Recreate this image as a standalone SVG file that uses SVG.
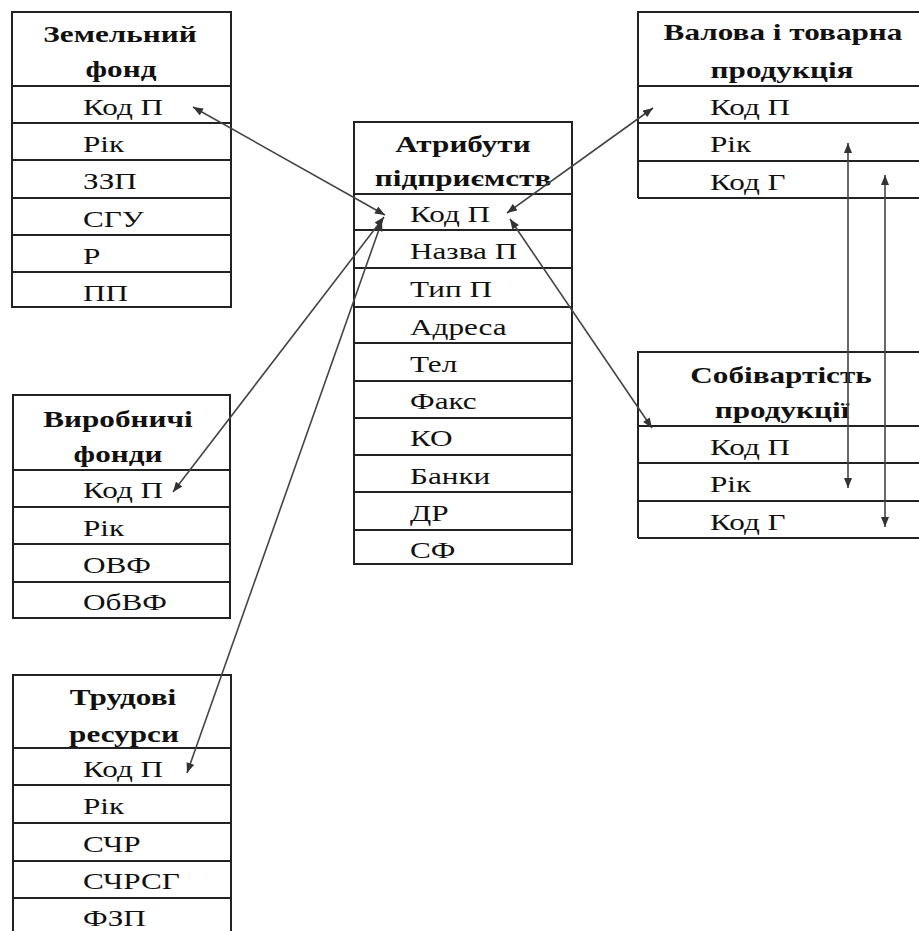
<svg xmlns="http://www.w3.org/2000/svg" width="919" height="931" viewBox="0 0 919 931">
<style>
.b{fill:#fff;stroke:#222;stroke-width:2}
.l{stroke:#222;stroke-width:2;fill:none}
.t{font-family:"Liberation Serif","Times New Roman",serif;font-size:24px;fill:#111}
.h{font-family:"Liberation Serif","Times New Roman",serif;font-size:24px;font-weight:bold;fill:#111;text-anchor:middle}
.c{stroke:#444;stroke-width:1.6;fill:none;marker-start:url(#a);marker-end:url(#a)}
</style>
<defs>
<marker id="a" viewBox="0 0 10 8" refX="10" refY="4" markerWidth="11" markerHeight="8" markerUnits="userSpaceOnUse" orient="auto-start-reverse">
<path d="M0,0 L10,4 L0,8 Z" fill="#333"/>
</marker>
</defs>
<rect width="919" height="931" fill="#fff"/>

<g id="zemelnyi-fond">
<rect class="b" x="12" y="12" width="219" height="295"/>
<path class="l" d="M12 86H231M12 123H231M12 160H231M12 198H231M12 235H231M12 272H231"/>
<text class="h" transform="translate(120 42) scale(1.3 1)">Земельний</text>
<text class="h" transform="translate(121 77) scale(1.3 1)">фонд</text>
<text class="t" transform="translate(83 115) scale(1.3 1)">Код П</text>
<text class="t" transform="translate(83 152) scale(1.3 1)">Рік</text>
<text class="t" transform="translate(83 189) scale(1.3 1)">ЗЗП</text>
<text class="t" transform="translate(83 227) scale(1.3 1)">СГУ</text>
<text class="t" transform="translate(83 264) scale(1.3 1)">Р</text>
<text class="t" transform="translate(83 301) scale(1.3 1)">ПП</text>
</g>

<g id="atrybuty">
<rect class="b" x="354" y="122" width="218" height="442"/>
<path class="l" d="M354 194H572M354 230H572M354 268H572M354 307H572M354 343H572M354 381H572M354 418H572M354 455H572M354 492H572M354 530H572"/>
<text class="h" transform="translate(463 152) scale(1.3 1)">Атрибути</text>
<text class="h" transform="translate(463 186) scale(1.3 1)">підприємств</text>
<text class="t" transform="translate(410 222) scale(1.3 1)">Код П</text>
<text class="t" transform="translate(410 259) scale(1.3 1)">Назва П</text>
<text class="t" transform="translate(410 297) scale(1.3 1)">Тип П</text>
<text class="t" transform="translate(410 335) scale(1.3 1)">Адреса</text>
<text class="t" transform="translate(410 372) scale(1.3 1)">Тел</text>
<text class="t" transform="translate(410 409) scale(1.3 1)">Факс</text>
<text class="t" transform="translate(410 446) scale(1.3 1)">КО</text>
<text class="t" transform="translate(410 484) scale(1.3 1)">Банки</text>
<text class="t" transform="translate(410 521) scale(1.3 1)">ДР</text>
<text class="t" transform="translate(410 558) scale(1.3 1)">СФ</text>
</g>

<g id="valova-produktsiya">
<path class="l" d="M638 198V12H919M638 86H919M638 123H919M638 161H919M638 198H919"/>
<text class="h" transform="translate(783 40) scale(1.3 1)">Валова і товарна</text>
<text class="h" transform="translate(782 78) scale(1.3 1)">продукція</text>
<text class="t" transform="translate(710 115) scale(1.3 1)">Код П</text>
<text class="t" transform="translate(710 152) scale(1.3 1)">Рік</text>
<text class="t" transform="translate(710 190) scale(1.3 1)">Код Г</text>
</g>

<g id="sobivartist">
<path class="l" d="M638 538V352H919M638 426H919M638 463H919M638 501H919M638 538H919"/>
<text class="h" transform="translate(781 383) scale(1.3 1)">Собівартість</text>
<text class="h" transform="translate(782 418) scale(1.3 1)">продукції</text>
<text class="t" transform="translate(710 455) scale(1.3 1)">Код П</text>
<text class="t" transform="translate(710 492) scale(1.3 1)">Рік</text>
<text class="t" transform="translate(710 530) scale(1.3 1)">Код Г</text>
</g>

<g id="vyrobnychi-fondy">
<rect class="b" x="13" y="395" width="217" height="223"/>
<path class="l" d="M13 470H230M13 507H230M13 544H230M13 582H230"/>
<text class="h" transform="translate(118 427) scale(1.3 1)">Виробничі</text>
<text class="h" transform="translate(118 462) scale(1.3 1)">фонди</text>
<text class="t" transform="translate(83 498) scale(1.3 1)">Код П</text>
<text class="t" transform="translate(83 536) scale(1.3 1)">Рік</text>
<text class="t" transform="translate(83 573) scale(1.3 1)">ОВФ</text>
<text class="t" transform="translate(83 610) scale(1.3 1)">ОбВФ</text>
</g>

<g id="trudovi-resursy">
<path class="l" d="M13 935V675H231V935M13 748H231M13 785H231M13 823H231M13 861H231M13 898H231"/>
<text class="h" transform="translate(123 705) scale(1.3 1)">Трудові</text>
<text class="h" transform="translate(124 742) scale(1.3 1)">ресурси</text>
<text class="t" transform="translate(83 777) scale(1.3 1)">Код П</text>
<text class="t" transform="translate(83 814) scale(1.3 1)">Рік</text>
<text class="t" transform="translate(83 852) scale(1.3 1)">СЧР</text>
<text class="t" transform="translate(83 889) scale(1.3 1)">СЧРСГ</text>
<text class="t" transform="translate(83 926) scale(1.3 1)">ФЗП</text>
</g>

<g id="connectors">
<line class="c" x1="193" y1="107" x2="385" y2="215"/>
<line class="c" x1="384" y1="217" x2="173" y2="492"/>
<line class="c" x1="382" y1="221" x2="187" y2="773"/>
<line class="c" x1="507" y1="213" x2="653" y2="108"/>
<line class="c" x1="510" y1="219" x2="652" y2="428"/>
<line class="c" x1="848" y1="143" x2="848" y2="488"/>
<line class="c" x1="885" y1="175" x2="885" y2="527"/>
</g>
</svg>
